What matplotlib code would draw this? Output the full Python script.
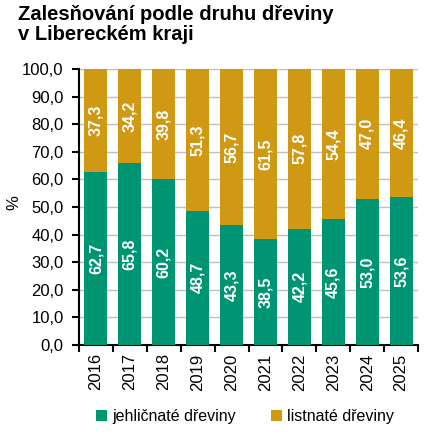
import matplotlib

matplotlib.use("Agg")
import matplotlib.pyplot as plt
import numpy as np

plt.rcParams["font.family"] = ["Liberation Sans", "DejaVu Sans"]

years = ["2016", "2017", "2018", "2019", "2020", "2021", "2022", "2023", "2024", "2025"]
jehlicnate = [62.7, 65.8, 60.2, 48.7, 43.3, 38.5, 42.2, 45.6, 53.0, 53.6]
listnate = [37.3, 34.2, 39.8, 51.3, 56.7, 61.5, 57.8, 54.4, 47.0, 46.4]

GREEN = "#009572"
GOLD = "#CF9913"


def fmt(v):
    return f"{v:.1f}".replace(".", ",")


fig = plt.figure(figsize=(4.37, 4.43), dpi=100)
ax = fig.add_axes([79 / 437, 1 - 345 / 443, (418 - 79) / 437, (345 - 69) / 443])

x = np.arange(len(years))
b1 = ax.bar(x, jehlicnate, width=0.68, color=GREEN, label="jehličnaté dřeviny", zorder=3)
b2 = ax.bar(x, listnate, width=0.68, bottom=jehlicnate, color=GOLD, label="listnaté dřeviny", zorder=3)

for i in range(len(years)):
    ax.text(x[i], jehlicnate[i] / 2, fmt(jehlicnate[i]), rotation=90, ha="center", va="center",
            color="white", fontweight="bold", fontsize=11.5, zorder=4)
    ax.text(x[i], jehlicnate[i] + listnate[i] / 2, fmt(listnate[i]), rotation=90, ha="center",
            va="center", color="white", fontweight="bold", fontsize=11.5, zorder=4)

ax.set_xlim(-0.5, len(years) - 0.5)
ax.set_ylim(0, 100)
ax.set_yticks(np.arange(0, 101, 10))
ax.set_yticklabels([fmt(v) for v in np.arange(0, 101, 10)], fontsize=12)
ax.set_xticks(x)
ax.set_xticklabels(years, rotation=90, fontsize=12)
ax.set_xticks(np.arange(-0.5, len(years)), minor=True)
ax.tick_params(axis="x", which="major", length=0, pad=6)
ax.tick_params(axis="x", which="minor", length=5, width=1.5, direction="out")
ax.tick_params(axis="y", length=5, width=1.5, direction="out", pad=6)
ax.yaxis.grid(True, color="#BFBFBF", linewidth=1, zorder=0)

for side in ["top", "right"]:
    ax.spines[side].set_visible(False)
for side in ["left", "bottom"]:
    ax.spines[side].set_linewidth(1.5)
    ax.spines[side].set_color("black")

fig.text(14 / 437, 1 - 203 / 443, "%", rotation=90, ha="center", va="center", fontsize=12)

fig.text(18 / 437, 1 - 5 / 443, "Zalesňování podle druhu dřeviny\nv Libereckém kraji",
         fontsize=14.5, fontweight="bold", ha="left", va="top", linespacing=1.05)

fig.legend(handles=[b1, b2], loc="lower center", bbox_to_anchor=(0.56, 0.01), ncol=2,
           frameon=False, fontsize=11.5, handlelength=0.7, handleheight=0.7,
           handletextpad=0.3, columnspacing=2.2)

fig.savefig("out.png", dpi=100)
